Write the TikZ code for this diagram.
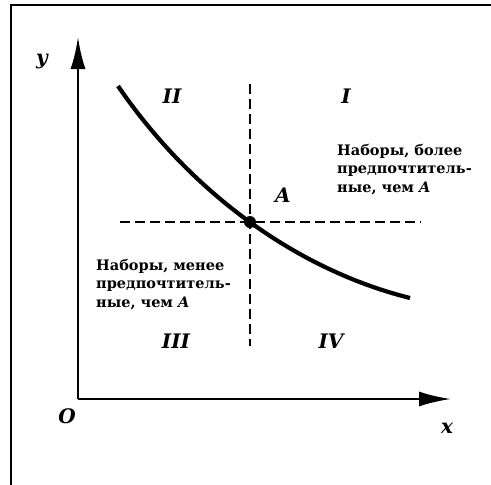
\documentclass[tikz,border=0pt]{standalone}
\usepackage{fontspec}
\setmainfont{DejaVu Serif}
\usetikzlibrary{arrows.meta}
\begin{document}
\begin{tikzpicture}[x=1pt,y=-1pt,
  frameline/.style={line width=2.8pt},
  axisline/.style={line width=2.6pt,-{Latex[length=32pt,width=15pt]}},
  dashline/.style={line width=2.4pt,dash pattern=on 10pt off 5pt},
  curveline/.style={line width=4.2pt},
  txt/.style={font=\bfseries\fontsize{14.5}{18.5}\selectfont,align=left,inner sep=0pt,anchor=north west},
  lab/.style={font=\bfseries\itshape\fontsize{20}{20}\selectfont,inner sep=0pt}]
\useasboundingbox (0,0) rectangle (491,485);
% frame
\coordinate (f1) at (11,485);
\coordinate (f2) at (11,5);
\coordinate (f3) at (491,5);
\draw[frameline] (f1) -- (f2) -- (f3);
% axes
\coordinate (O) at (78,399);
\coordinate (ytip) at (78,37);
\coordinate (xtip) at (451,399);
\draw[axisline] (O) -- (ytip);
\draw[axisline] (O) -- (xtip);
% curve
\coordinate (c0) at (118,86);
\coordinate (c1) at (410,298);
\coordinate (A) at (250,222);
% dashed lines
\coordinate (vtop) at (250,84);
\coordinate (vbot) at (250,346);
\coordinate (hl) at (120,222);
\coordinate (hr) at (421,222);
\draw[dashline] (vtop) -- (vbot);
\draw[dashline] (hl) -- (hr);
\draw[curveline] (c0) .. controls (192,194) and (298,270) .. (c1);
\fill (A) circle (6pt);
% labels
\node[lab] (ly) at (42,62) {y};
\node[lab] (lO) at (67,416) {O};
\node[lab] (lx) at (447,428) {x};
\node[lab] (lII) at (172,96) {II};
\node[lab] (lI) at (346,96) {I};
\node[lab] (lA) at (283,195) {A};
\node[lab] (lIII) at (176,341) {III};
\node[lab] (lIV) at (331,341) {IV};
\node[txt] (t1) at (337,144) {Наборы, более\\предпочтитель-\\ные, чем \textit{A}};
\node[txt] (t2) at (96,259) {Наборы, менее\\предпочтитель-\\ные, чем \textit{A}};
\end{tikzpicture}
\end{document}
